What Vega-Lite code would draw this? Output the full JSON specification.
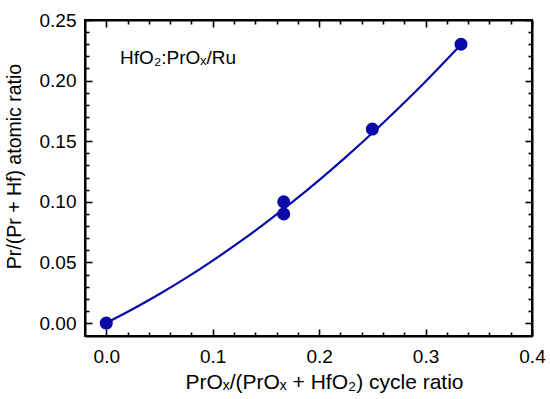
{
  "$schema": "https://vega.github.io/schema/vega-lite/v6.json",
  "width": 447,
  "height": 316,
  "autosize": "none",
  "padding": {"left": 85, "top": 20, "right": 18, "bottom": 63},
  "background": "white",
  "config": {
    "view": {"stroke": "black", "strokeWidth": 2},
    "axis": {
      "grid": false,
      "domainColor": "black",
      "domainWidth": 2,
      "tickColor": "black",
      "tickWidth": 1.6,
      "labelFont": "Liberation Sans",
      "labelFontSize": 19,
      "labelColor": "black",
      "titleFont": "Liberation Sans",
      "titleFontSize": 19,
      "titleFontWeight": "normal",
      "titleColor": "black"
    }
  },
  "datasets": {
    "fit": [
      {"x": 0, "y": 0},
      {"x": 0.025, "y": 0.0115},
      {"x": 0.05, "y": 0.0239},
      {"x": 0.075, "y": 0.0372},
      {"x": 0.1, "y": 0.0515},
      {"x": 0.125, "y": 0.0667},
      {"x": 0.15, "y": 0.0828},
      {"x": 0.175, "y": 0.0999},
      {"x": 0.2, "y": 0.1179},
      {"x": 0.225, "y": 0.1369},
      {"x": 0.25, "y": 0.1568},
      {"x": 0.275, "y": 0.1776},
      {"x": 0.3, "y": 0.1993},
      {"x": 0.3333, "y": 0.2298}
    ],
    "pts": [
      {"x": 0, "y": 0},
      {"x": 0.1667, "y": 0.09},
      {"x": 0.1667, "y": 0.10},
      {"x": 0.25, "y": 0.16},
      {"x": 0.3333, "y": 0.23}
    ],
    "label": [{"text": "HfO₂:PrOₓ/Ru"}]
  },
  "layer": [
    {
      "data": {"name": "fit"},
      "mark": {"type": "line", "color": "#0a0aaa", "strokeWidth": 2.2, "interpolate": "monotone"},
      "encoding": {
        "x": {
          "field": "x", "type": "quantitative",
          "scale": {"domain": [-0.02, 0.4], "nice": false, "zero": false},
          "axis": {
            "orient": "bottom",
            "title": "PrOₓ/(PrOₓ + HfO₂) cycle ratio",
            "titleFontSize": 21,
            "titlePadding": 2,
            "titleX": 239,
            "titleAlign": "center",
            "values": [0, 0.02, 0.04, 0.06, 0.08, 0.1, 0.12, 0.14, 0.16, 0.18, 0.2, 0.22, 0.24, 0.26, 0.28, 0.3, 0.32, 0.34, 0.36, 0.38, 0.4],
            "tickSize": {"condition": {"test": "abs(datum.value*10 - round(datum.value*10)) < 0.001", "value": -7}, "value": -4},
            "labelExpr": "abs(datum.value*10 - round(datum.value*10)) < 0.001 ? format(datum.value, '.1f') : ''",
            "labelPadding": 18,
            "labelFlush": false,
            "labelOverlap": false
          }
        },
        "y": {
          "field": "y", "type": "quantitative",
          "scale": {"domain": [-0.0107, 0.25], "nice": false, "zero": false},
          "axis": {
            "orient": "left",
            "title": "Pr/(Pr + Hf) atomic ratio",
            "titleFontSize": 19.5,
            "titlePadding": 15,
            "titleY": 146,
            "titleAlign": "center",
            "values": [0, 0.01, 0.02, 0.03, 0.04, 0.05, 0.06, 0.07, 0.08, 0.09, 0.1, 0.11, 0.12, 0.13, 0.14, 0.15, 0.16, 0.17, 0.18, 0.19, 0.2, 0.21, 0.22, 0.23, 0.24, 0.25],
            "tickSize": {"condition": {"test": "abs(datum.value*20 - round(datum.value*20)) < 0.001", "value": -7}, "value": -4},
            "labelExpr": "abs(datum.value*20 - round(datum.value*20)) < 0.001 ? format(datum.value, '.2f') : ''",
            "labelPadding": 16,
            "labelFlush": false,
            "labelOverlap": false
          }
        }
      }
    },
    {
      "data": {"name": "pts"},
      "mark": {"type": "point", "filled": true, "opacity": 1, "color": "#0a0aaa", "size": 170},
      "encoding": {
        "x": {
          "field": "x", "type": "quantitative",
          "axis": {
            "orient": "top", "title": null, "labels": false,
            "values": [0, 0.02, 0.04, 0.06, 0.08, 0.1, 0.12, 0.14, 0.16, 0.18, 0.2, 0.22, 0.24, 0.26, 0.28, 0.3, 0.32, 0.34, 0.36, 0.38, 0.4],
            "tickSize": {"condition": {"test": "abs(datum.value*10 - round(datum.value*10)) < 0.001", "value": -7}, "value": -4}
          }
        },
        "y": {
          "field": "y", "type": "quantitative",
          "axis": {
            "orient": "right", "title": null, "labels": false,
            "values": [0, 0.01, 0.02, 0.03, 0.04, 0.05, 0.06, 0.07, 0.08, 0.09, 0.1, 0.11, 0.12, 0.13, 0.14, 0.15, 0.16, 0.17, 0.18, 0.19, 0.2, 0.21, 0.22, 0.23, 0.24, 0.25],
            "tickSize": {"condition": {"test": "abs(datum.value*20 - round(datum.value*20)) < 0.001", "value": -7}, "value": -4}
          }
        }
      }
    },
    {
      "data": {"name": "label"},
      "mark": {"type": "text", "align": "left", "baseline": "middle", "font": "Liberation Sans", "fontSize": 19, "color": "black"},
      "encoding": {
        "x": {"datum": 0.013, "type": "quantitative", "axis": null},
        "y": {"datum": 0.219, "type": "quantitative", "axis": null},
        "text": {"field": "text"}
      }
    }
  ],
  "resolve": {"axis": {"x": "independent", "y": "independent"}}
}
